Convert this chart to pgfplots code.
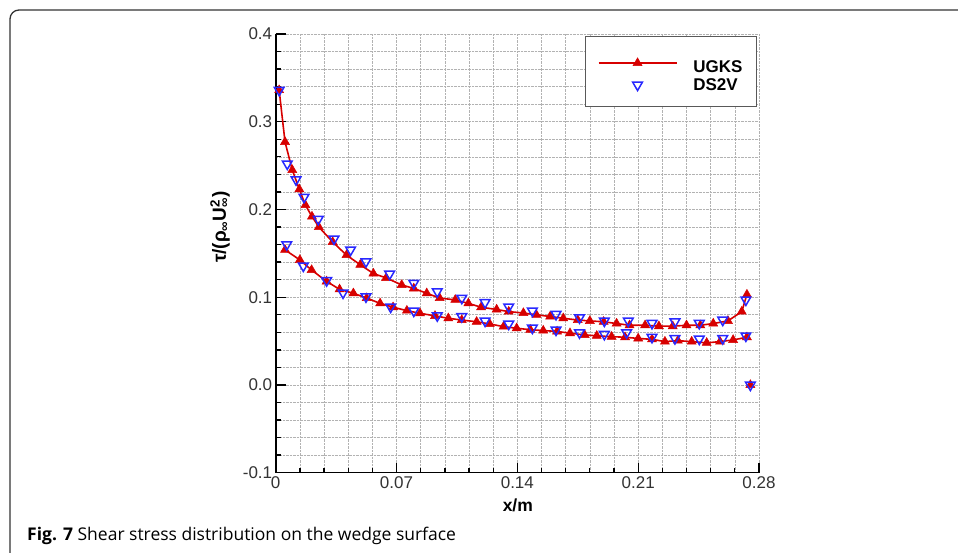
\documentclass[border=0pt]{standalone}
\usepackage{pgfplots}
\pgfplotsset{compat=1.18}
\usepackage{fontspec}
\setmainfont{Liberation Sans}
\newfontfamily\capfont{Open Sans}
\definecolor{ured}{RGB}{215,0,0}
\definecolor{dblue}{RGB}{40,40,255}
\pgfplotsset{mylegimg/.style={legend image code/.code={\draw[mark repeat=2,mark phase=2,##1] plot coordinates {(0pt,0pt) (39pt,0pt) (78pt,0pt)};}}}
\begin{document}
\begin{tikzpicture}[x=1pt,y=1pt]
\useasboundingbox (0,0) rectangle (958,553);
\draw[line width=1.3pt, black!80, rounded corners=9pt] (10,-20) -- (10,543) -- (990,543);
\node[anchor=base west, inner sep=0pt] at (27,12) {\capfont\fontsize{17.5}{20}\selectfont\textbf{Fig. 7} Shear stress distribution on the wedge surface};
\begin{axis}[
  at={(275.7pt,80.3pt)}, anchor=south west,
  scale only axis, width=483.3pt, height=438.7pt,
  xmin=0, xmax=0.28, ymin=-0.1, ymax=0.4,
  axis x line=bottom, axis y line=left,
  axis line style={-, line width=1.6pt, black},
  xtick={0,0.07,0.14,0.21,0.28}, xticklabels={0,0.07,0.14,0.21,0.28},
  ytick={-0.1,0,0.1,0.2,0.3,0.4}, yticklabels={-0.1,0.0,0.1,0.2,0.3,0.4},
  minor x tick num=4, minor y tick num=4,
  tick align=inside,
  major tick length=10pt, minor tick length=5pt,
  tick style={black, line width=1.3pt},
  grid=both,
  major grid style={densely dotted, black!30, line width=0.6pt},
  minor grid style={densely dotted, black!30, line width=0.6pt},
  tick label style={font=\fontsize{17}{20}\selectfont, text=black!80},
  xlabel={\bfseries x/m},
  ylabel={\bfseries τ/(ρ\textsubscript{∞}U\rlap{\textsuperscript{2}}\textsubscript{∞})},
  label style={font=\bfseries\fontsize{17.5}{20}\selectfont},
  xlabel style={at={(axis description cs:0.501,-0.074)}, anchor=center},
  ylabel style={at={(axis description cs:-0.115,0.56)}, anchor=center, font=\bfseries\fontsize{19}{22}\selectfont},
  legend cell align=left,
  legend style={at={(0.996,0.995)}, anchor=north east, draw=black!65, line width=1.2pt,
    font=\bfseries\fontsize{17}{20}\selectfont, inner xsep=12pt, inner ysep=13pt,
    row sep=0pt, column sep=14pt},
]
\addplot[ured, line width=1.6pt, mark=triangle*, mark size=5.2pt, mark options={solid, fill=ured, line width=0.5pt}, mylegimg]
coordinates {(0.002,0.336)(0.0054,0.277)(0.0096,0.245)(0.0137,0.223)(0.0172,0.205)(0.021,0.192)(0.025,0.180)(0.033,0.163)(0.041,0.148)(0.049,0.137)(0.0566,0.127)(0.064,0.122)(0.073,0.114)(0.080,0.110)(0.0875,0.1045)(0.095,0.099)(0.104,0.097)(0.1116,0.093)(0.119,0.0886)(0.128,0.086)(0.135,0.0836)(0.1435,0.082)(0.151,0.080)(0.159,0.078)(0.1666,0.076)(0.175,0.074)(0.182,0.073)(0.190,0.072)(0.1975,0.070)(0.205,0.068)(0.214,0.068)(0.222,0.067)(0.230,0.067)(0.238,0.068)(0.246,0.068)(0.2535,0.070)(0.262,0.073)(0.270,0.0836)(0.273,0.103)};
\addlegendentry{\rule{0pt}{21pt}UGKS}
\addplot[ured, line width=1.6pt, mark=triangle*, mark size=5.2pt, mark options={solid, fill=ured, line width=0.5pt}, forget plot]
coordinates {(0.0054,0.154)(0.014,0.1425)(0.0208,0.131)(0.0295,0.118)(0.037,0.109)(0.045,0.1045)(0.0527,0.099)(0.0605,0.093)(0.068,0.0886)(0.076,0.0847)(0.0836,0.0817)(0.0923,0.0787)(0.100,0.076)(0.1078,0.074)(0.1164,0.072)(0.124,0.0695)(0.132,0.0665)(0.1396,0.0646)(0.1475,0.063)(0.155,0.062)(0.163,0.061)(0.1705,0.059)(0.179,0.057)(0.186,0.056)(0.1946,0.055)(0.2024,0.0544)(0.210,0.053)(0.218,0.052)(0.2255,0.0494)(0.233,0.0505)(0.241,0.0494)(0.2497,0.048)(0.2574,0.0494)(0.265,0.0513)(0.273,0.0544)};
\addplot[ured, only marks, mark=triangle*, mark size=5.2pt, mark options={solid, fill=ured, line width=0.5pt}, forget plot]
coordinates {(0.275,0.0)};
\addplot[dblue, only marks, mark=triangle, mark size=5.6pt, mark options={solid, rotate=180, line width=1.5pt}, mylegimg]
coordinates {(0.002,0.336)(0.0067,0.252)(0.0118,0.234)(0.0164,0.214)(0.0247,0.189)(0.0338,0.1665)(0.0434,0.154)(0.0523,0.1406)(0.066,0.1265)(0.080,0.116)(0.0936,0.1064)(0.1078,0.099)(0.1213,0.094)(0.135,0.089)(0.1487,0.0844)(0.1624,0.0806)(0.176,0.0767)(0.1904,0.073)(0.2043,0.073)(0.218,0.0703)(0.2313,0.072)(0.2454,0.0703)(0.259,0.074)(0.2724,0.097)};
\addlegendentry{DS2V}
\addplot[dblue, only marks, mark=triangle, mark size=5.6pt, mark options={solid, rotate=180, line width=1.5pt}, forget plot]
coordinates {(0.0064,0.160)(0.016,0.1357)(0.0295,0.119)(0.039,0.105)(0.0523,0.1006)(0.0666,0.089)(0.080,0.0844)(0.0936,0.079)(0.1078,0.078)(0.1213,0.073)(0.135,0.0695)(0.1487,0.065)(0.1624,0.0627)(0.176,0.0596)(0.1904,0.0578)(0.2033,0.0596)(0.218,0.0544)(0.2313,0.053)(0.2454,0.0524)(0.259,0.053)(0.2724,0.056)(0.275,0.0)};
\end{axis}
\end{tikzpicture}
\end{document}
